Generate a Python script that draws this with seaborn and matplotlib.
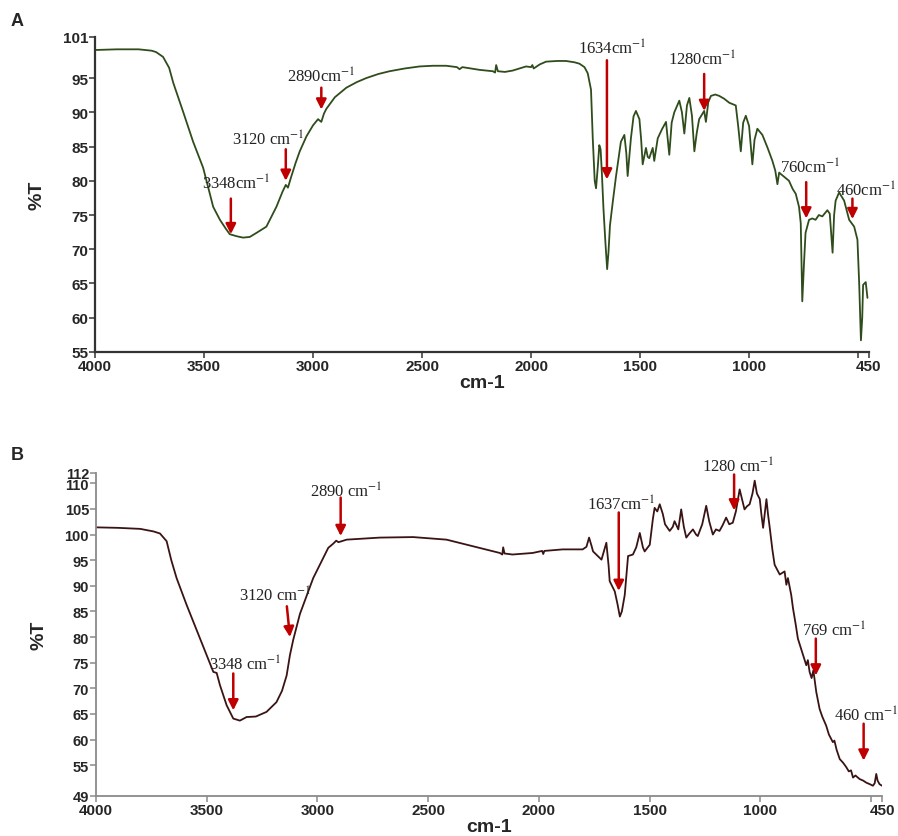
import numpy as np
import pandas as pd
import seaborn as sns
import matplotlib.pyplot as plt

# FTIR spectrum A (wavenumber cm-1, %T)
a_wn = [4000, 3900, 3800, 3740, 3720, 3688, 3660, 3641, 3595, 3550, 3504, 3458, 3427, 3400,
        3382, 3350, 3321, 3290, 3259, 3214, 3190, 3168, 3140, 3125, 3115, 3100, 3080, 3061,
        3030, 3000, 2977, 2962, 2950, 2939, 2900, 2847, 2800, 2756, 2700, 2649, 2580, 2511,
        2450, 2389, 2340, 2328, 2315, 2236, 2175, 2165, 2160, 2152, 2120, 2084, 2023, 2000,
        1994, 1988, 1960, 1931, 1880, 1840, 1800, 1778, 1755, 1740, 1725, 1717, 1708, 1702,
        1694, 1687, 1681, 1675, 1668, 1659, 1651, 1645, 1638, 1626, 1611, 1588, 1572, 1563,
        1557, 1548, 1542, 1530, 1519, 1503, 1495, 1488, 1473, 1465, 1458, 1442, 1435, 1419,
        1400, 1381, 1373, 1366, 1355, 1343, 1320, 1308, 1297, 1285, 1274, 1262, 1251, 1240,
        1229, 1206, 1198, 1187, 1175, 1155, 1137, 1115, 1091, 1061, 1050, 1038, 1027, 1015,
        1000, 985, 975, 962, 939, 915, 893, 880, 870, 862, 855, 817, 800, 786, 771, 763, 756,
        748, 741, 725, 710, 695, 680, 664, 641, 630, 617, 610, 603, 587, 564, 541, 518, 503,
        495, 487, 481, 477, 465, 457]
a_t = [99.1, 99.2, 99.2, 99.0, 98.8, 98.1, 96.5, 94.3, 90.0, 85.7, 81.9, 76.2, 74.3, 73.0,
       72.2, 71.9, 71.7, 71.8, 72.4, 73.3, 74.8, 76.2, 78.4, 79.4, 79.0, 80.6, 82.6, 84.3,
       86.5, 88.1, 89.0, 88.6, 89.8, 90.5, 92.2, 93.6, 94.4, 95.0, 95.6, 96.0, 96.4, 96.7,
       96.8, 96.8, 96.6, 96.3, 96.6, 96.2, 96.0, 95.8, 96.9, 96.0, 95.9, 96.1, 96.7, 96.6,
       96.9, 96.4, 97.0, 97.4, 97.5, 97.5, 97.3, 97.1, 96.6, 95.7, 93.3, 86.2, 80.0, 78.9,
       82.0, 85.2, 84.6, 81.0, 76.0, 71.0, 67.1, 69.5, 73.5, 76.7, 80.5, 85.7, 86.7, 84.0,
       80.7, 84.0, 86.2, 89.4, 90.2, 89.0, 86.0, 82.4, 84.8, 83.5, 83.3, 84.8, 82.9, 86.2,
       87.5, 88.6, 86.0, 83.8, 88.5, 90.0, 91.7, 90.0, 86.9, 91.0, 92.1, 89.5, 84.3, 87.0,
       89.0, 90.2, 88.6, 91.5, 92.4, 92.6, 92.4, 92.0, 91.4, 91.0, 88.0, 84.3, 88.5, 89.5,
       88.0, 82.4, 86.0, 87.6, 86.7, 84.8, 82.9, 81.5, 79.5, 81.2, 81.0, 80.0, 78.8, 78.1,
       76.2, 73.8, 62.4, 68.0, 72.4, 74.3, 74.5, 74.3, 75.0, 74.8, 75.7, 75.2, 69.5, 75.0,
       77.1, 78.3, 77.1, 74.3, 73.3, 71.4, 65.0, 56.7, 60.0, 64.8, 65.2, 62.9]

# FTIR spectrum B
b_wn = [4000, 3900, 3800, 3740, 3711, 3681, 3660, 3636, 3591, 3530, 3470, 3455, 3440, 3410,
        3380, 3350, 3320, 3278, 3230, 3185, 3160, 3139, 3124, 3109, 3079, 3019, 2974, 2951,
        2929, 2915, 2905, 2868, 2718, 2568, 2417, 2296, 2176, 2165, 2161, 2155, 2119, 2028,
        1985, 1980, 1975, 1892, 1802, 1785, 1773, 1762, 1755, 1717, 1695, 1685, 1680, 1657,
        1645, 1634, 1625, 1612, 1597, 1575, 1560, 1544, 1530, 1522, 1499, 1485, 1477, 1465,
        1454, 1440, 1430, 1409, 1395, 1387, 1370, 1357, 1345, 1334, 1320, 1304, 1290, 1282,
        1262, 1244, 1230, 1214, 1200, 1184, 1170, 1154, 1140, 1124, 1110, 1093, 1083, 1071,
        1060, 1048, 1035, 1025, 1015, 1002, 995, 987, 972, 965, 957, 945, 935, 912, 890, 882,
        875, 860, 852, 840, 830, 810, 792, 785, 777, 768, 760, 755, 747, 732, 720, 702, 690,
        672, 665, 655, 641, 626, 611, 600, 590, 581, 570, 551, 535, 521, 505, 491, 483, 476,
        470, 461, 450]
b_t = [101.4, 101.3, 101.1, 100.6, 100.2, 98.7, 95.0, 91.5, 86.3, 79.7, 73.2, 73.0, 70.6,
       66.7, 64.1, 63.7, 64.4, 64.5, 65.4, 67.3, 69.5, 72.5, 76.5, 79.5, 84.5, 91.5, 95.4,
       97.4, 98.2, 98.8, 98.5, 99.0, 99.4, 99.5, 99.0, 97.7, 96.4, 96.1, 97.5, 96.3, 96.1,
       96.4, 96.8, 96.2, 96.8, 97.1, 97.1, 97.6, 99.4, 97.8, 96.7, 95.1, 98.4, 94.0, 90.9,
       88.9, 86.5, 84.0, 85.0, 88.2, 95.8, 96.1, 97.5, 100.3, 97.5, 96.7, 98.0, 103.0, 105.2,
       104.5, 105.9, 104.0, 102.0, 100.7, 101.5, 102.6, 101.0, 104.9, 101.5, 99.4, 100.2,
       101.0, 100.0, 99.7, 102.0, 105.6, 102.5, 100.0, 101.0, 100.7, 101.8, 103.3, 102.0,
       102.3, 104.5, 108.8, 107.0, 104.9, 105.5, 105.9, 108.0, 110.5, 108.0, 106.9, 104.0,
       101.3, 106.9, 104.0, 101.3, 97.0, 94.1, 92.2, 92.8, 90.2, 91.5, 88.2, 85.6, 82.5,
       79.7, 77.0, 74.5, 75.5, 73.2, 72.0, 73.5, 71.9, 69.3, 66.0, 64.5, 62.7, 61.0, 59.5,
       59.8, 58.0, 56.2, 55.5, 54.6, 53.8, 54.0, 52.6, 53.0, 52.3, 52.0, 51.6, 51.3, 51.0,
       51.5, 53.3, 52.0, 51.3, 51.0]

# peak annotations: label, label x, label y, arrow x start, arrow x end, arrow y start, arrow y end
a_peaks = [("3348cm$^{-1}$", 3350, 79.6, 3377, 3377, 77.4, 72.2),
           ("3120 cm$^{-1}$", 3207, 86.0, 3125, 3125, 84.6, 80.0),
           ("2890cm$^{-1}$", 2962, 95.3, 2962, 2962, 93.6, 90.4),
           ("1634cm$^{-1}$", 1627, 99.4, 1652, 1652, 97.6, 80.2),
           ("1280cm$^{-1}$", 1215, 97.8, 1206, 1206, 95.6, 90.2),
           ("760cm$^{-1}$", 722, 82.0, 738, 738, 79.8, 74.5),
           ("460cm$^{-1}$", 464, 78.6, 526, 526, 77.4, 74.4)]
b_peaks = [("3348 cm$^{-1}$", 3327, 74.8, 3380, 3380, 72.9, 65.7),
           ("3120 cm$^{-1}$", 3192, 88.2, 3138, 3124, 86.0, 80.0),
           ("2890 cm$^{-1}$", 2869, 108.5, 2895, 2895, 107.2, 99.7),
           ("1637cm$^{-1}$", 1627, 105.9, 1639, 1639, 104.3, 89.0),
           ("1280 cm$^{-1}$", 1100, 113.4, 1118, 1118, 111.7, 104.7),
           ("769 cm$^{-1}$", 664, 81.4, 749, 749, 79.7, 72.5),
           ("460 cm$^{-1}$", 521, 64.8, 533, 533, 63.1, 55.9)]

x_ticks = [4000, 3500, 3000, 2500, 2000, 1500, 1000, 500, 450]
x_labels = ["4000", "3500", "3000", "2500", "2000", "1500", "1000", "", "450"]
a_yticks = [55, 60, 65, 70, 75, 80, 85, 90, 95, 101]
b_yticks = [49, 55, 60, 65, 70, 75, 80, 85, 90, 95, 100, 105, 110, 112]

sns.set_style("ticks")
plt.rcParams['font.family'] = ['Liberation Sans', 'DejaVu Sans']
plt.rcParams['mathtext.fontset'] = 'stix'

fig = plt.figure(figsize=(8.98, 8.37), dpi=100)
ax_a = fig.add_axes([0.1058, 0.5783, 0.8619, 0.3763])
ax_b = fig.add_axes([0.1069, 0.0478, 0.8753, 0.3859])

red = '#c00000'


def draw(ax, wn, t, color, peaks, ylim, yticks, spine_color, spine_lw, tick_fs):
    df = pd.DataFrame({"wn": wn, "T": t})
    sns.lineplot(data=df, x="wn", y="T", ax=ax, color=color, lw=1.3,
                 estimator=None, sort=False)
    ax.set_xlim(4000, 450)
    ax.set_ylim(*ylim)
    ax.set_xticks(x_ticks)
    ax.set_xticklabels(x_labels)
    ax.set_yticks(yticks)
    ax.set_yticklabels([str(v) for v in yticks])
    for lab in ax.get_xticklabels():
        lab.set_fontweight('bold')
        lab.set_fontsize(11)
    for lab in ax.get_yticklabels():
        lab.set_fontweight('bold')
        lab.set_fontsize(tick_fs)
    ax.tick_params(length=4, width=1.1, color=spine_color, pad=1)
    sns.despine(ax=ax)
    for s in ['left', 'bottom']:
        ax.spines[s].set_color(spine_color)
        ax.spines[s].set_linewidth(spine_lw)
    ax.set_xlabel("cm-1", fontsize=14, fontweight='bold', labelpad=1)
    ax.set_ylabel("%T", fontsize=14, fontweight='bold', labelpad=12)
    for lab, lx, ly, x0, x1, y0, y1 in peaks:
        ax.text(lx, ly, lab, ha='center', va='center', fontsize=12,
                family='Liberation Serif', color='#222222', clip_on=False)
        ax.annotate('', xy=(x1, y1), xytext=(x0, y0),
                    arrowprops=dict(arrowstyle='-|>,head_width=0.3,head_length=0.6',
                                    color=red, lw=1.8, shrinkA=0, shrinkB=0,
                                    mutation_scale=10))


draw(ax_a, a_wn, a_t, '#2f4d1c', a_peaks, (55, 101), a_yticks, '#333333', 1.6, 11)
draw(ax_b, b_wn, b_t, '#3a1414', b_peaks, (49, 112), b_yticks, '#8a8a8a', 1.3, 10.5)

fig.text(0.012, 0.974, "A", fontsize=13, fontweight='bold', va='center')
fig.text(0.012, 0.456, "B", fontsize=13, fontweight='bold', va='center')

fig.savefig("out.png", dpi=100)
